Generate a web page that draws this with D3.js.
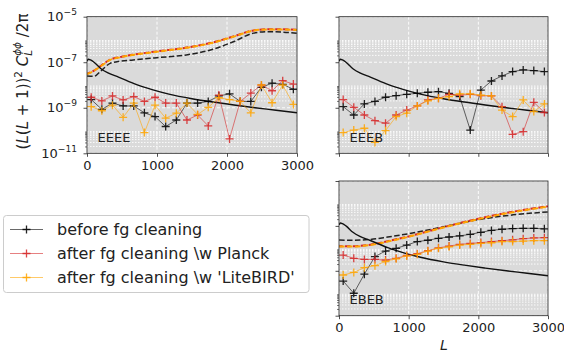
<!DOCTYPE html>
<html>
<head>
<meta charset="utf-8">
<script src="https://cdn.jsdelivr.net/npm/d3@7"></script>
<style>
  body { margin: 0; background: #fff; }
  svg { display: block; font-family: 'DejaVu Sans', sans-serif; }
</style>
</head>
<body>
<div id="chart"></div>
<script>
// multipole bin centres of the reconstructed spectra
const ell = [60, 212, 364, 516, 668, 820, 972, 1124, 1276, 1428, 1580, 1732, 1884, 2036, 2188, 2340, 2492, 2644, 2796, 2948];

// EEEE estimator
const eeeeBefore = [2.3e-9, 8.5e-10, 1.6e-9, 1.2e-9, 1.2e-9, 6.0e-10, 4.1e-10, 1.5e-10, 2.9e-10, 1.6e-9,
  1.6e-9, 1.9e-9, 3.3e-9, 4.1e-9, 1.9e-9, 1.9e-9, 7.9e-9, 1.2e-8, 1.07e-8, 6.5e-9];
const eeeePlanck = [2.9e-9, 2.0e-9, 3.3e-9, 2.2e-9, 3.1e-9, 1.9e-9, 2.9e-9, 1.6e-9, 1.6e-9, 2.9e-10,
  4.8e-10, 1.6e-10, 3.6e-9, 4.3e-11, 1.9e-9, 4.4e-9, 1.0e-8, 5.6e-9, 1.55e-8, 1.1e-8];
const eeeeLite = [1.12e-9, 7.4e-10, 1.3e-9, 3.8e-10, 1.6e-9, 8.1e-11, 1.3e-9, 3.5e-10, 5.8e-10, 1.6e-9,
  5.1e-10, 1.05e-9, 2.75e-9, 2.3e-9, 1.9e-9, 6.0e-10, 1.0e-8, 1.66e-9, 1.0e-8, 1.4e-9];

// EEEB estimator
const eeebBefore = [1.12e-9, 4.8e-10, 1.48e-9, 1.9e-9, 2.9e-9, 3.4e-9, 3.9e-9, 4.3e-9, 4.8e-9, 5.1e-9,
  4.3e-9, 3.1e-9, 1.05e-10, 6.0e-9, 1.5e-8, 2.5e-8, 3.9e-8, 4.6e-8, 4.3e-8, 3.9e-8];
const eeebPlanck = [2.3e-9, 1.05e-9, 4.8e-10, 2.7e-10, 2.1e-10, 4.8e-10, 7.9e-10, 1.2e-9, 2.2e-9, 2.6e-9,
  3.9e-9, 3.6e-9, 3.9e-9, 3.4e-9, 3.3e-9, 1.12e-9, 6.8e-11, 8.9e-11, 1.74e-9, 6.2e-10];
const eeebLite = [8.1e-11, 1.05e-10, 1.26e-10, 3.0e-11, 1.0e-10, 4.1e-10, 5.8e-10, 1.2e-9, 2.0e-9, 2.6e-9,
  3.1e-9, 4.1e-9, 4.1e-9, 3.6e-9, 3.3e-9, 7.9e-10, 4.1e-10, 2.2e-9, 6.8e-10, 1.48e-9];

// EBEB estimator
const ebebBefore = [3.5e-10, 1.0e-10, 7.1e-10, 4.3e-9, 7.6e-9, 1.0e-8, 1.4e-8, 2.0e-8, 2.3e-8, 2.8e-8,
  3.2e-8, 3.6e-8, 4.2e-8, 5.2e-8, 6.3e-8, 7.1e-8, 7.6e-8, 7.8e-8, 7.8e-8, 7.4e-8];
const ebebPlanck = [5.0e-9, 3.6e-9, 3.2e-9, 3.2e-9, 3.0e-9, 3.6e-9, 4.8e-9, 5.8e-9, 7.9e-9, 1.05e-8,
  1.26e-8, 1.5e-8, 1.66e-8, 1.8e-8, 2.0e-8, 2.2e-8, 2.4e-8, 2.7e-8, 2.9e-8, 3.0e-8];
const ebebLite = [6.5e-10, 8.5e-10, 1.38e-9, 1.7e-9, 2.6e-9, 3.4e-9, 4.6e-9, 5.4e-9, 7.6e-9, 1.0e-8,
  1.17e-8, 1.4e-8, 1.5e-8, 1.66e-8, 1.78e-8, 2.0e-8, 2.0e-8, 2.1e-8, 2.2e-8, 2.2e-8];

// lensing signal (solid curve, same in every panel)
const signalL = [2, 20, 50, 100, 200, 300, 450, 700, 930, 1170, 1500, 1800, 2100, 2400, 2700, 3000];
const signal = [1.12e-7, 1.35e-7, 1.26e-7, 1.0e-7, 5.2e-8, 3.4e-8, 2.24e-8, 1.07e-8, 6.3e-9, 4.0e-9,
  2.5e-9, 1.78e-9, 1.32e-9, 1.0e-9, 7.8e-10, 6.0e-10];

// reconstruction noise (dashed curves)
const eeeeNoiseL = [2, 100, 200, 330, 480, 660, 1000, 1420, 1800, 2090, 2380, 2570, 2800, 3000];
const eeeeNoiseBefore = [2.5e-8, 2.4e-8, 4.2e-8, 8.9e-8, 1.12e-7, 1.26e-7, 1.58e-7, 2.1e-7, 3.7e-7, 7.9e-7,
  1.9e-6, 2.2e-6, 2.1e-6, 1.86e-6];
const eeeeNoisePlanck = [3.1e-8, 4.3e-8, 7.0e-8, 1.3e-7, 1.7e-7, 2.15e-7, 3.0e-7, 4.4e-7, 7.4e-7, 1.36e-6,
  2.5e-6, 2.8e-6, 2.8e-6, 2.65e-6];
const eeeeNoiseLite = [3.0e-8, 4.2e-8, 6.8e-8, 1.26e-7, 1.66e-7, 2.1e-7, 2.9e-7, 4.3e-7, 7.2e-7, 1.32e-6,
  2.45e-6, 2.75e-6, 2.75e-6, 2.6e-6];

const ebebNoiseL = [2, 200, 450, 700, 1000, 1500, 2000, 2500, 3000];
const ebebNoiseBefore = [2.35e-8, 2.3e-8, 2.5e-8, 3.2e-8, 4.5e-8, 9.1e-8, 1.9e-7, 3.1e-7, 4.2e-7];
const ebebNoisePlanck = [1.25e-8, 1.25e-8, 1.45e-8, 2.1e-8, 3.4e-8, 8.8e-8, 2.1e-7, 4.3e-7, 7.5e-7];
const ebebNoiseLite = [1.2e-8, 1.2e-8, 1.4e-8, 2.0e-8, 3.3e-8, 8.5e-8, 2.0e-7, 4.1e-7, 7.2e-7];

const xTicks = [0, 1000, 2000, 3000];
const yMajor = [1e-11, 1e-9, 1e-7, 1e-5];
const yExp = ['\u221211', '\u22129', '\u22127', '\u22125'];
const legendLabels = ['before fg cleaning', 'after fg cleaning \\w Planck', "after fg cleaning \\w 'LiteBIRD'"];

const colors = { before: '#000000', planck: '#d62728', lite: '#ffa500' };

const panels = [
  { name: 'EEEE', x: [87, 297], y: [16.7, 153.3], xLab: true, yLab: true,
    before: eeeeBefore, planck: eeeePlanck, lite: eeeeLite,
    noiseL: eeeeNoiseL, noise: [eeeeNoiseBefore, eeeeNoisePlanck, eeeeNoiseLite] },
  { name: 'EEEB', x: [339, 548], y: [16.7, 153.3], xLab: false, yLab: false,
    before: eeebBefore, planck: eeebPlanck, lite: eeebLite, noiseL: null },
  { name: 'EBEB', x: [339, 548], y: [181, 315.7], xLab: true, yLab: false,
    before: ebebBefore, planck: ebebPlanck, lite: ebebLite,
    noiseL: ebebNoiseL, noise: [ebebNoiseBefore, ebebNoisePlanck, ebebNoiseLite] }
];

const svg = d3.select('#chart').append('svg')
  .attr('width', 564).attr('height', 355);

const plus = 'M-4,0H4M0,-4V4';

panels.forEach((p, pi) => {
  const x = d3.scaleLinear().domain([0, 3000]).range(p.x);
  const y = d3.scaleLog().domain([1e-11, 1e-5]).range([p.y[1], p.y[0]]);
  const w = p.x[1] - p.x[0], h = p.y[1] - p.y[0];
  const yMinor = [-11, -9, -7].flatMap(d => d3.range(2, 10).map(k => k * Math.pow(10, d)));

  const g = svg.append('g');
  g.append('clipPath').attr('id', 'clip' + pi)
    .append('rect').attr('x', p.x[0]).attr('y', p.y[0]).attr('width', w).attr('height', h);

  g.append('rect').attr('x', p.x[0]).attr('y', p.y[0]).attr('width', w).attr('height', h)
    .attr('fill', '#dadada');

  // grid
  const grid = g.append('g').attr('clip-path', 'url(#clip' + pi + ')');
  grid.selectAll('.vg').data(xTicks).enter().append('line')
    .attr('x1', d => x(d)).attr('x2', d => x(d)).attr('y1', p.y[0]).attr('y2', p.y[1])
    .attr('stroke', '#fff').attr('stroke-width', 0.9).attr('stroke-dasharray', '3,2');
  grid.selectAll('.hg').data(yMajor).enter().append('line')
    .attr('x1', p.x[0]).attr('x2', p.x[1]).attr('y1', d => y(d)).attr('y2', d => y(d))
    .attr('stroke', '#fff').attr('stroke-width', 0.9).attr('stroke-dasharray', '3,2');
  grid.selectAll('.mg').data(yMinor).enter().append('line')
    .attr('x1', p.x[0]).attr('x2', p.x[1]).attr('y1', d => y(d)).attr('y2', d => y(d))
    .attr('stroke', '#fff').attr('stroke-width', 0.9).attr('stroke-dasharray', '1.5,1.5');

  const plot = g.append('g').attr('clip-path', 'url(#clip' + pi + ')');
  const line = d3.line().x(d => x(d[0])).y(d => y(d[1]));
  const smooth = d3.line().x(d => x(d[0])).y(d => y(d[1])).curve(d3.curveMonotoneX);

  // noise curves
  if (p.noiseL) {
    const nStyle = [
      { c: colors.before, w: 1.5, off: 0 },
      { c: colors.planck, w: 2, off: 2 },
      { c: colors.lite, w: 2, off: 0 }
    ];
    p.noise.forEach((arr, i) => {
      plot.append('path').datum(d3.zip(p.noiseL, arr)).attr('d', smooth)
        .attr('fill', 'none').attr('stroke', nStyle[i].c).attr('stroke-width', nStyle[i].w)
        .attr('stroke-dasharray', '5.5,2.4').attr('stroke-dashoffset', nStyle[i].off)
        .attr('opacity', i === 0 ? 0.85 : 1);
    });
  }

  // signal curve
  plot.append('path').datum(d3.zip(signalL, signal)).attr('d', smooth)
    .attr('fill', 'none').attr('stroke', '#111').attr('stroke-width', 1.4);

  // measured points
  ['before', 'planck', 'lite'].forEach(key => {
    const pts = d3.zip(ell, p[key]);
    plot.append('path').datum(pts).attr('d', line)
      .attr('fill', 'none').attr('stroke', colors[key]).attr('stroke-width', 0.9)
      .attr('opacity', 0.65);
    plot.selectAll('.m-' + key).data(pts).enter().append('path')
      .attr('d', plus)
      .attr('transform', d => 'translate(' + x(d[0]) + ',' + y(d[1]) + ')')
      .attr('stroke', colors[key]).attr('stroke-width', 1.3).attr('opacity', 0.85);
  });

  // panel name
  g.append('text').attr('x', p.x[0] + 10.5).attr('y', p.y[1] - 11.5)
    .attr('font-size', 13).attr('fill', '#222').text(p.name);

  // axes
  const xAxis = d3.axisBottom(x).tickValues(xTicks).tickSize(3.5).tickPadding(3.5)
    .tickFormat(p.xLab ? d3.format('d') : () => '');
  const ax = g.append('g').attr('transform', 'translate(0,' + p.y[1] + ')').call(xAxis);
  ax.select('.domain').remove();
  ax.selectAll('line').attr('stroke', '#222').attr('stroke-width', 0.8);
  ax.selectAll('text').attr('font-size', 13).attr('fill', '#222')
    .attr('font-family', 'DejaVu Sans, sans-serif');

  const yAxis = d3.axisLeft(y).tickValues(yMajor).tickSize(3.5).tickFormat(() => '');
  const ay = g.append('g').attr('transform', 'translate(' + p.x[0] + ',0)').call(yAxis);
  ay.select('.domain').remove();
  ay.selectAll('line').attr('stroke', '#222').attr('stroke-width', 0.8);
  const yAxisMinor = d3.axisLeft(y).tickValues(yMinor).tickSize(2).tickFormat(() => '');
  const aym = g.append('g').attr('transform', 'translate(' + p.x[0] + ',0)').call(yAxisMinor);
  aym.select('.domain').remove();
  aym.selectAll('line').attr('stroke', '#222').attr('stroke-width', 0.6);

  if (p.yLab) {
    const lab = g.selectAll('.ylab').data(yMajor).enter().append('text')
      .attr('x', p.x[0] - 10).attr('y', d => y(d) + 4.5)
      .attr('text-anchor', 'end').attr('font-size', 13).attr('fill', '#222');
    lab.append('tspan').text('10');
    lab.append('tspan').attr('dy', -6).attr('font-size', 9.1).text((d, i) => yExp[i]);
  }

  // spines
  g.append('rect').attr('x', p.x[0]).attr('y', p.y[0]).attr('width', w).attr('height', h)
    .attr('fill', 'none').attr('stroke', '#222').attr('stroke-width', 0.8);
});

// y label
const yl = svg.append('text').attr('transform', 'translate(28,81.5) rotate(-90)')
  .attr('text-anchor', 'middle').attr('font-size', 15).attr('fill', '#222');
yl.append('tspan').text('(');
yl.append('tspan').attr('font-style', 'italic').text('L');
yl.append('tspan').text('(');
yl.append('tspan').attr('font-style', 'italic').text('L');
yl.append('tspan').text(' + 1))');
yl.append('tspan').attr('dy', -6).attr('font-size', 10.5).text('2');
yl.append('tspan').attr('dy', 6).text(' ');
yl.append('tspan').attr('font-style', 'italic').text('C');
yl.append('tspan').attr('dy', 3.5).attr('font-size', 10.5).attr('font-style', 'italic').text('L');
yl.append('tspan').attr('dx', -6).attr('dy', -10.5).attr('font-size', 10.5).attr('font-style', 'italic').text('\u03d5\u03d5');
yl.append('tspan').attr('dy', 7).text(' /2\u03c0');

// x label
svg.append('text').attr('x', 444).attr('y', 350).attr('text-anchor', 'middle')
  .attr('font-size', 14).attr('font-style', 'italic').attr('fill', '#222').text('L');

// legend
const leg = svg.append('g');
leg.append('rect').attr('x', 3.5).attr('y', 215.5).attr('width', 305.5).attr('height', 77)
  .attr('rx', 3).attr('fill', '#fff').attr('stroke', '#ccc').attr('stroke-width', 1);
const keys = ['before', 'planck', 'lite'];
const rows = leg.selectAll('.row').data(keys).enter().append('g')
  .attr('transform', (d, i) => 'translate(0,' + (229.5 + i * 24) + ')');
rows.append('line').attr('x1', 10).attr('x2', 43).attr('y1', 0).attr('y2', 0)
  .attr('stroke', d => colors[d]).attr('stroke-width', 0.9).attr('opacity', 0.65);
rows.append('path').attr('d', plus).attr('transform', 'translate(26.5,0)')
  .attr('stroke', d => colors[d]).attr('stroke-width', 1.3).attr('opacity', 0.85);
rows.append('text').attr('x', 57).attr('y', 5.5).attr('font-size', 16).attr('fill', '#222')
  .text((d, i) => legendLabels[i]);
</script>
</body>
</html>
